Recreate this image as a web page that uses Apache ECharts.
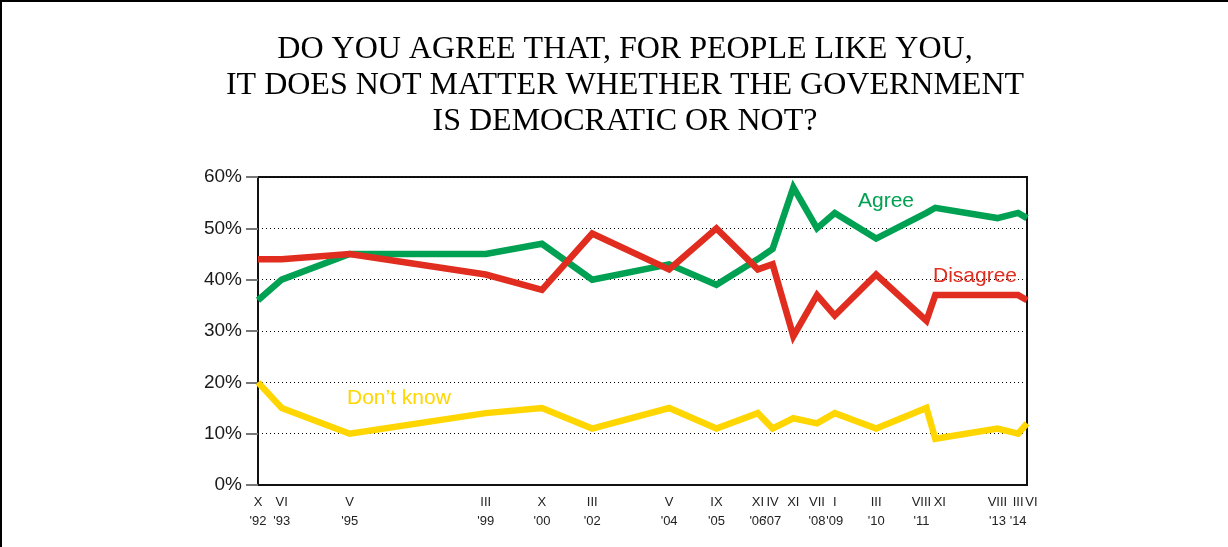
<!DOCTYPE html>
<html>
<head>
<meta charset="utf-8">
<script src="https://cdn.jsdelivr.net/npm/echarts@6/dist/echarts.min.js"></script>
<style>
html,body{margin:0;padding:0;background:#fff;}
#main{width:1228px;height:547px;}
</style>
</head>
<body>
<div id="main"></div>
<script>
// Survey dates (year-month), with tick labels
const surveyDates = ['1992-10','1993-06','1995-05','1999-03','2000-10','2002-03','2004-05','2005-09','2006-11','2007-04','2007-11','2008-07','2009-01','2010-03','2011-08','2011-11','2013-08','2014-03','2014-06'];
const monthLabels = ['X','VI','V','III','X','III','V','IX','XI','IV','XI','VII','I','III','VIII','XI','VIII','III','VI'];
const yearLabels  = ["'92","'93","'95","'99","'00","'02","'04","'05","'06","'07","","'08","'09","'10","'11","","'13","'14",""];

// Series values (%)
const agree     = [36, 40, 45, 45, 47, 40, 43, 39, 44, 46, 58, 50, 53, 48, 53, 54, 52, 53, 52];
const disagree  = [44, 44, 45, 41, 38, 49, 42, 50, 42, 43, 29, 37, 33, 41, 32, 37, 37, 37, 36];
const dontKnow  = [20, 15, 10, 14, 15, 11, 15, 11, 14, 11, 13, 12, 14, 11, 15,  9, 11, 10, 12];

const yTicks = [0, 10, 20, 30, 40, 50, 60];

// month index counted from October 1992
function monthIndex(s) {
  const [y, m] = s.split('-').map(Number);
  return (y - 1992) * 12 + (m - 10);
}
const xs = surveyDates.map(monthIndex);
const nudge = {}; // small label nudges for crowded ticks (px, + = right)
nudge[monthIndex('2011-08')] = -5;
nudge[monthIndex('2011-11')] = 5;
nudge[monthIndex('2014-06')] = 4;
const labelByX = {};
xs.forEach((x, i) => {
  const n = nudge[x] || 0;
  const style = n < 0 ? 'l' : (n > 0 ? 'r' : 'c');
  labelByX[x] = '{' + style + '|' + monthLabels[i] + '}\n{' + style + '|' + yearLabels[i] + '}';
});

function pairs(vals) { return vals.map((v, i) => [xs[i], v]); }

const GREEN = '#00a152';
const RED = '#e02d1f';
const YELLOW = '#ffd600';
const SANS = '"Liberation Sans", Arial, sans-serif';

const labelRich = {
  c: {fontFamily: SANS, fontSize: 13, lineHeight: 19, color: '#222'},
  l: {fontFamily: SANS, fontSize: 13, lineHeight: 19, color: '#222', padding: [0, 10, 0, 0]},
  r: {fontFamily: SANS, fontSize: 13, lineHeight: 19, color: '#222', padding: [0, 0, 0, 9]}
};

const xBase = {
  type: 'value',
  min: xs[0],
  max: xs[xs.length - 1],
  position: 'bottom',
  axisTick: {show: false},
  splitLine: {show: false}
};

const chart = echarts.init(document.getElementById('main'), null, {renderer: 'canvas'});
chart.setOption({
  backgroundColor: '#ffffff',
  animation: false,
  title: {
    text: 'DO YOU AGREE THAT, FOR PEOPLE LIKE YOU,\nIT DOES NOT MATTER WHETHER THE GOVERNMENT\nIS DEMOCRATIC OR NOT?',
    left: 620,
    top: 27,
    textAlign: 'center',
    textStyle: {
      fontFamily: '"Liberation Serif", "Times New Roman", serif',
      fontSize: 32,
      fontWeight: 'normal',
      color: '#000',
      lineHeight: 36
    }
  },
  grid: {
    left: 258, right: 201, top: 177, bottom: 62,
    show: true, borderColor: '#111', borderWidth: 2, backgroundColor: 'transparent'
  },
  xAxis: [
    Object.assign({}, xBase, {
      axisLine: {show: true, lineStyle: {color: '#111', width: 2}},
      axisLabel: {
        customValues: xs.slice(0, xs.length - 1),
        formatter: v => labelByX[v] || '',
        rich: labelRich,
        margin: 8,
        hideOverlap: false,
        showMinLabel: true,
        showMaxLabel: true
      }
    }),
    Object.assign({}, xBase, {
      axisLine: {show: false},
      axisLabel: {
        customValues: [xs[xs.length - 1]],
        formatter: v => labelByX[v] || '',
        rich: labelRich,
        margin: 8,
        hideOverlap: false,
        showMinLabel: true,
        showMaxLabel: true
      }
    })
  ],
  yAxis: {
    type: 'value',
    min: 0, max: 60, interval: 10,
    axisLine: {show: true, lineStyle: {color: '#111', width: 2}},
    axisTick: {show: true, length: 12, lineStyle: {color: '#777', width: 2}},
    splitLine: {show: true, lineStyle: {color: '#000', width: 1, type: [1, 3]}},
    axisLabel: {
      customValues: yTicks,
      formatter: '{value}%',
      fontFamily: SANS,
      fontSize: 19,
      color: '#1a1a1a',
      margin: 16
    }
  },
  series: [
    {name: "Don't know", type: 'line', data: pairs(dontKnow), symbol: 'none',
     lineStyle: {color: YELLOW, width: 6.5, join: 'miter'}, z: 2},
    {name: 'Agree', type: 'line', data: pairs(agree), symbol: 'none',
     lineStyle: {color: GREEN, width: 6.5, join: 'miter'}, z: 3},
    {name: 'Disagree', type: 'line', data: pairs(disagree), symbol: 'none',
     lineStyle: {color: RED, width: 6.5, join: 'miter'}, z: 4}
  ],
  graphic: [
    {type: 'line', shape: {x1: 0, y1: 1, x2: 1228, y2: 1}, style: {stroke: '#000', lineWidth: 2}},
    {type: 'line', shape: {x1: 1, y1: 0, x2: 1, y2: 547}, style: {stroke: '#000', lineWidth: 2}},
    {type: 'text', left: 858, top: 191, z: 10,
     style: {text: 'Agree', fill: GREEN, font: '21px ' + SANS}},
    {type: 'text', left: 933, top: 266, z: 10,
     style: {text: 'Disagree', fill: RED, font: '21px ' + SANS}},
    {type: 'text', left: 347, top: 388, z: 10,
     style: {text: 'Don\u2019t know', fill: YELLOW, font: '21px ' + SANS}}
  ]
});
</script>
</body>
</html>
